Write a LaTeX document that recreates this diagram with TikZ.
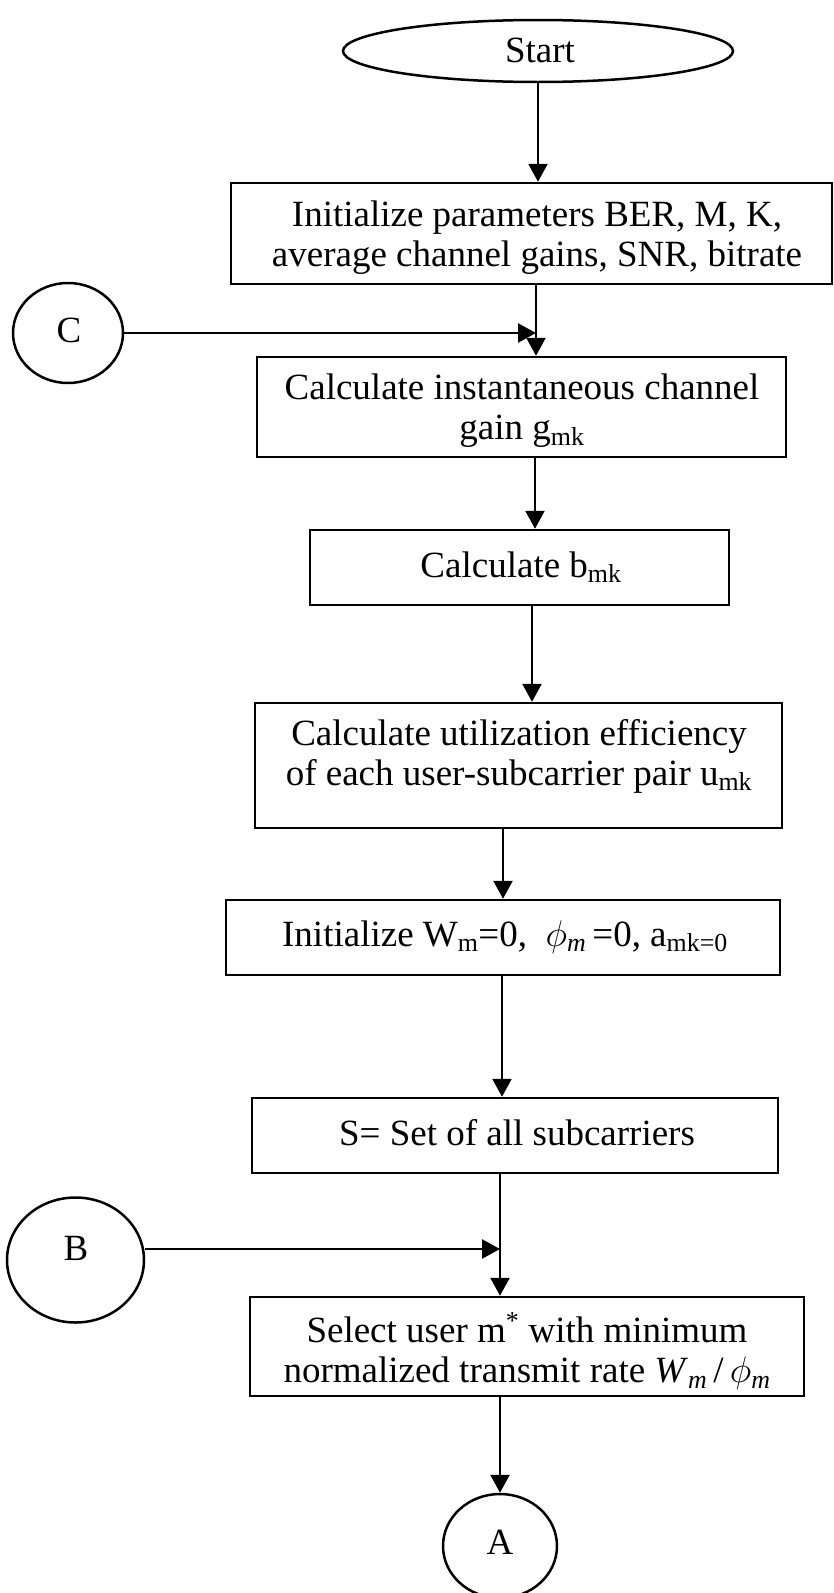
\RequirePackage{fix-cm}
\documentclass[tikz,border=0pt]{standalone}
\usepackage{fontspec}
\setmainfont{Liberation Serif}
\usetikzlibrary{arrows.meta,shapes.geometric}
\newcommand\flowfont{\fontsize{37}{40}\selectfont}
\begin{document}
\begin{tikzpicture}[x=1pt,y=-1pt,
  stepbox/.style={draw,line width=2.5pt,rectangle,inner sep=0pt},
  oval/.style={draw,line width=2.5pt,ellipse,inner sep=0pt},
  txt/.style={font=\flowfont,align=center,inner sep=0pt},
  arr/.style={line width=2.5pt,-{Triangle[length=18pt,width=19pt]}}]
\fill[white] (0,0) rectangle (834,1593);
\useasboundingbox (0,0) rectangle (834,1593);

% shapes
\node[oval,minimum width=390pt,minimum height=62pt] (start) at (538,51) {};
\node[stepbox,minimum width=601pt,minimum height=101pt] (init) at (531.5,233.5) {};
\node[oval,minimum width=110pt,minimum height=100pt] (C) at (68,333) {};
\node[stepbox,minimum width=529pt,minimum height=100pt] (calc) at (521.5,407) {};
\node[stepbox,minimum width=419pt,minimum height=75pt] (bmk) at (519.5,567.5) {};
\node[stepbox,minimum width=527pt,minimum height=125pt] (util) at (518.5,765.5) {};
\node[stepbox,minimum width=554pt,minimum height=75pt] (initw) at (503,937.5) {};
\node[stepbox,minimum width=526pt,minimum height=75pt] (sset) at (515,1135.5) {};
\node[oval,minimum width=137pt,minimum height=125pt] (B) at (75.5,1260) {};
\node[stepbox,minimum width=554pt,minimum height=99pt] (select) at (527,1346.5) {};
\node[oval,minimum width=114pt,minimum height=104pt] (A) at (500,1546) {};

% texts
\node[txt] (start-t) at (540,50) {Start};
\node[txt] (init-t) at (537,238) {Initialize parameters BER, M, K,\\average channel gains, SNR, bitrate};
\node[txt] (C-t) at (69,330) {C};
\node[txt] (calc-t) at (522,411) {Calculate instantaneous channel\\gain g\textsubscript{mk}};
\node[txt] (bmk-t) at (521,567) {Calculate b\textsubscript{mk}};
\node[txt] (util-t) at (519,756) {Calculate utilization efficiency\\of each user-subcarrier pair u\textsubscript{mk}};
\node[txt] (initw-t) at (505,937) {Initialize W\textsubscript{m}=0,\ \ $\phi$\textsubscript{\textit{m}}\,=0, a\textsubscript{mk=0}};
\node[txt] (sset-t) at (517,1133) {S= Set of all subcarriers};
\node[txt] (B-t) at (76,1248) {B};
\node[txt] (select-t) at (527,1351) {Select user m\textsuperscript{*} with minimum\\normalized transmit rate \textit{W}\textsubscript{\textit{m}}\,/\,$\phi$\textsubscript{\textit{m}}};
\node[txt] (A-t) at (500,1542) {A};

% junctions and line positions
\coordinate (jc) at (536,333);
\coordinate (x3) at (535,0);
\coordinate (x4) at (532,0);
\coordinate (x5) at (503,0);
\coordinate (x6) at (502,0);
\coordinate (jb) at (500,1249);

% connectors
\draw[arr] (start.south) -- (start.south |- init.north);
\draw[arr] (init.south -| jc) -- (calc.north -| jc);
\draw[arr] (C.east) -- (jc);
\draw[arr] (calc.south -| x3) -- (bmk.north -| x3);
\draw[arr] (bmk.south -| x4) -- (util.north -| x4);
\draw[arr] (util.south -| x5) -- (initw.north -| x5);
\draw[arr] (initw.south -| x6) -- (sset.north -| x6);
\draw[arr] (sset.south -| jb) -- (select.north -| jb);
\draw[arr] (B.east |- jb) -- (jb);
\draw[arr] (select.south -| A) -- (A.north);
\end{tikzpicture}
\end{document}
